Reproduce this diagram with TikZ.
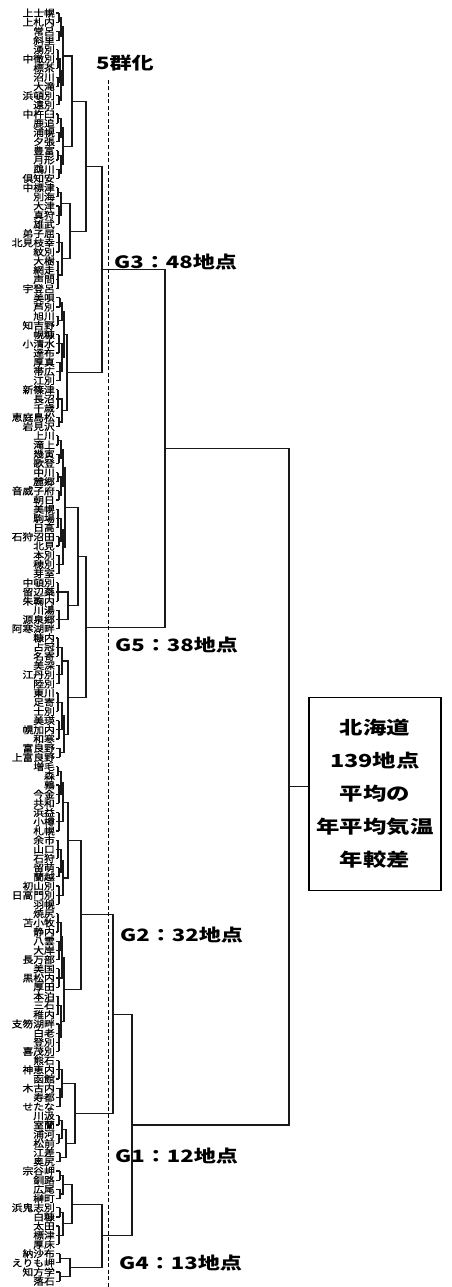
\documentclass[tikz,border=0pt]{standalone}
\usepackage{fontspec}
\usetikzlibrary{calc}
\newfontfamily\jp[FakeStretch=1.12,FakeBold=0.6]{Noto Sans CJK JP}
\newfontfamily\jpb[FakeStretch=1.3]{Noto Sans CJK JP}
\tikzset{
  tree/.style={line width=1.2pt, draw=black!90},
  leaf/.style={anchor=east, inner sep=1pt, font=\jp\fontsize{9.6}{9.6}\selectfont},
  grp/.style={anchor=west, inner sep=0pt, font=\jpb\bfseries\fontsize{17}{17}\selectfont},
  cut/.style={line width=0.9pt, dash pattern=on 4pt off 2.5pt},
  sumbox/.style={draw, line width=1.5pt, minimum width=132pt, minimum height=193pt, align=center,
    font=\jpb\bfseries\fontsize{18}{33}\selectfont}
}
\newcommand\comb[4]{%
  \foreach \k in {#2,...,#3} {\draw[tree] (t\k.east) -- (#4,0 |- t\k.east);}
  \draw[tree] (#4,0 |- t#2.east) -- (#4,0 |- t#3.east);
  \coordinate (#1) at ($(#4,0 |- t#2.east)!0.5!(#4,0 |- t#3.east)$);}
\newcommand\mrg[4]{%
  \draw[tree] (#2) -- (#4,0 |- #2) -- (#4,0 |- #3) -- (#3);
  \coordinate (#1) at ($(#4,0 |- #2)!0.5!(#4,0 |- #3)$);}
\begin{document}
\begin{tikzpicture}[x=1pt,y=-1pt]
\useasboundingbox[fill=white] (0,0) rectangle (451,1287);
\foreach \nm [count=\i] in {上士幌,上札内,常呂,斜里,湧別,中徹別,標茶,沼川,大滝,浜頓別,遠別,中杵臼,鹿追,浦幌,夕張,豊富,月形,鵡川,倶知安,中標津,別海,大津,真狩,雄武,弟子屈,北見枝幸,紋別,大樹,網走,声問,宇登呂,美唄,芦別,旭川,知吉野,幌糠,小清水,達布,厚真,帯広,江別,新篠津,長沼,千歳,恵庭島松,岩見沢,上川,滝上,幾寅,歌登,中川,麓郷,音威子府,朝日,美幌,駒場,日高,石狩沼田,北見,本別,穂別,芽室,中頓別,留辺蘂,朱鞠内,川湯,源泉郷,阿寒湖畔,糠内,占冠,名寄,美深,江丹別,陸別,東川,足寄,士別,美瑛,幌加内,和寒,富良野,上富良野,増毛,森,鶉,今金,共和,浜益,小樽,札幌,余市,山口,石狩,留萌,蘭越,初山別,日高門別,羽幌,焼尻,苫小牧,静内,八雲,大岸,長万部,美国,黒松内,厚田,本泊,三石,稚内,支笏湖畔,白老,登別,喜茂別,熊石,神恵内,函館,木古内,寿都,せたな,川汲,室蘭,浦河,松前,江差,奥尻,宗谷岬,釧路,広尾,榊町,浜鬼志別,白糠,太田,標津,厚床,納沙布,えりも岬,知方学,落石}
  {\node[leaf] (t\i) at (56,{13+(\i-1)*9.19}) {\nm};}
% G3
\comb{a1}{1}{2}{59}\comb{a2}{3}{4}{59}\mrg{a3}{a1}{a2}{61}
\comb{a4}{5}{7}{58}\comb{a5}{8}{9}{58}\mrg{a6}{a4}{a5}{60}
\comb{a7}{10}{11}{59}\mrg{a8}{a6}{a7}{61}\mrg{A1}{a3}{a8}{63}
\comb{a9}{12}{13}{58}\comb{a10}{14}{15}{59}\mrg{a11}{a9}{a10}{61}
\comb{a12}{16}{17}{58}\comb{a13}{18}{19}{59}\mrg{a14}{a12}{a13}{61}
\mrg{A2}{a11}{a14}{63}\mrg{A}{A1}{A2}{72}
\comb{b1}{20}{21}{58}\comb{b2}{22}{24}{59}\mrg{b3}{b1}{b2}{61}
\comb{b4}{25}{27}{59}\comb{b5}{28}{31}{58}\mrg{b6}{b4}{b5}{62}\mrg{B}{b3}{b6}{70}
\mrg{AB}{A}{B}{86}
\comb{c1}{32}{33}{60}\comb{c2}{34}{35}{58}\mrg{c3}{c1}{c2}{62}
\comb{c4}{36}{38}{59}\comb{c5}{39}{41}{60}\mrg{c6}{c4}{c5}{62}\mrg{c7}{c3}{c6}{64}
\comb{c8}{42}{44}{58}\comb{c9}{45}{46}{59}\mrg{c10}{c8}{c9}{62}\mrg{C}{c7}{c10}{67}
\mrg{G3}{AB}{C}{102}
% G5
\comb{d1}{47}{48}{58}\comb{d2}{49}{50}{59}\mrg{d3}{d1}{d2}{61}
\comb{d4}{51}{52}{58}\comb{d5}{53}{54}{59}\mrg{d6}{d4}{d5}{61}\mrg{d7}{d3}{d6}{63}
\comb{d8}{55}{57}{58}\comb{d9}{58}{59}{59}\mrg{d10}{d8}{d9}{61}
\comb{d11}{60}{62}{59}\mrg{d12}{d10}{d11}{63}\mrg{D1}{d7}{d12}{65}
\comb{d13}{63}{65}{58}\comb{d14}{66}{68}{59}\mrg{D2}{d13}{d14}{68}\mrg{D}{D1}{D2}{78}
\comb{e1}{69}{71}{58}\comb{e2}{72}{74}{59}\mrg{e3}{e1}{e2}{62}
\comb{e4}{75}{77}{58}\comb{e5}{78}{80}{59}\mrg{e6}{e4}{e5}{62}
\comb{e7}{81}{82}{60}\mrg{e8}{e6}{e7}{64}\mrg{E}{e3}{e8}{68}
\mrg{G5}{D}{E}{86}
% G2
\comb{f1}{83}{84}{58}\comb{f2}{85}{87}{59}\mrg{f3}{f1}{f2}{61}
\comb{f4}{88}{90}{59}\mrg{f5}{f3}{f4}{63}
\comb{f6}{91}{93}{58}\comb{f7}{94}{95}{59}\mrg{f8}{f6}{f7}{61}
\comb{f9}{96}{98}{59}\mrg{f10}{f8}{f9}{63}\mrg{F1}{f5}{f10}{68}
\comb{f11}{99}{101}{58}\comb{f12}{102}{104}{59}\mrg{f13}{f11}{f12}{61}
\comb{f14}{105}{107}{59}\mrg{f15}{f13}{f14}{62}
\comb{f16}{108}{110}{58}\comb{f17}{111}{114}{59}\mrg{f18}{f16}{f17}{61}
\mrg{F2}{f15}{f18}{64}\mrg{G2}{F1}{F2}{81}
% G1
\comb{g1}{115}{117}{59}\comb{g2}{118}{120}{60}\mrg{g3}{g1}{g2}{62}
\comb{g4}{121}{122}{59}\comb{g5}{123}{124}{59}\mrg{g6}{g4}{g5}{62}
\comb{g7}{125}{126}{60}\mrg{g8}{g6}{g7}{66}\mrg{G1}{g3}{g8}{75}
% G4
\comb{h1}{127}{128}{60}\comb{h2}{129}{130}{60}\mrg{h3}{h1}{h2}{63}
\comb{h4}{131}{132}{60}\comb{h5}{133}{135}{59}\mrg{h6}{h4}{h5}{63}\mrg{h7}{h3}{h6}{72}
\comb{h8}{136}{137}{60}\comb{h9}{138}{139}{60}\mrg{h10}{h8}{h9}{70}
\mrg{G4}{h7}{h10}{102}
% upper levels
\mrg{R1}{G3}{G5}{165}
\mrg{R2}{G2}{G1}{113}
\mrg{R3}{R2}{G4}{132}
\mrg{R}{R1}{R3}{289}
\node[sumbox] (box) at (375,794) {北海道\\139地点\\平均の\\年平均気温\\年較差};
\draw[tree] (R) -- (R -| box.west);
% cut line and labels
\coordinate (cuttop) at (108,80);
\coordinate (cutbot) at (108,1287);
\draw[cut] (cuttop) -- (cutbot);
\node[grp, anchor=center] (five) at (125,63) {5群化};
\node[grp] (l3) at (114,262) {G3：48地点};
\node[grp] (l5) at (115,645) {G5：38地点};
\node[grp] (l2) at (120,935) {G2：32地点};
\node[grp] (l1) at (115,1156) {G1：12地点};
\node[grp] (l4) at (119,1263) {G4：13地点};
\end{tikzpicture}
\end{document}
